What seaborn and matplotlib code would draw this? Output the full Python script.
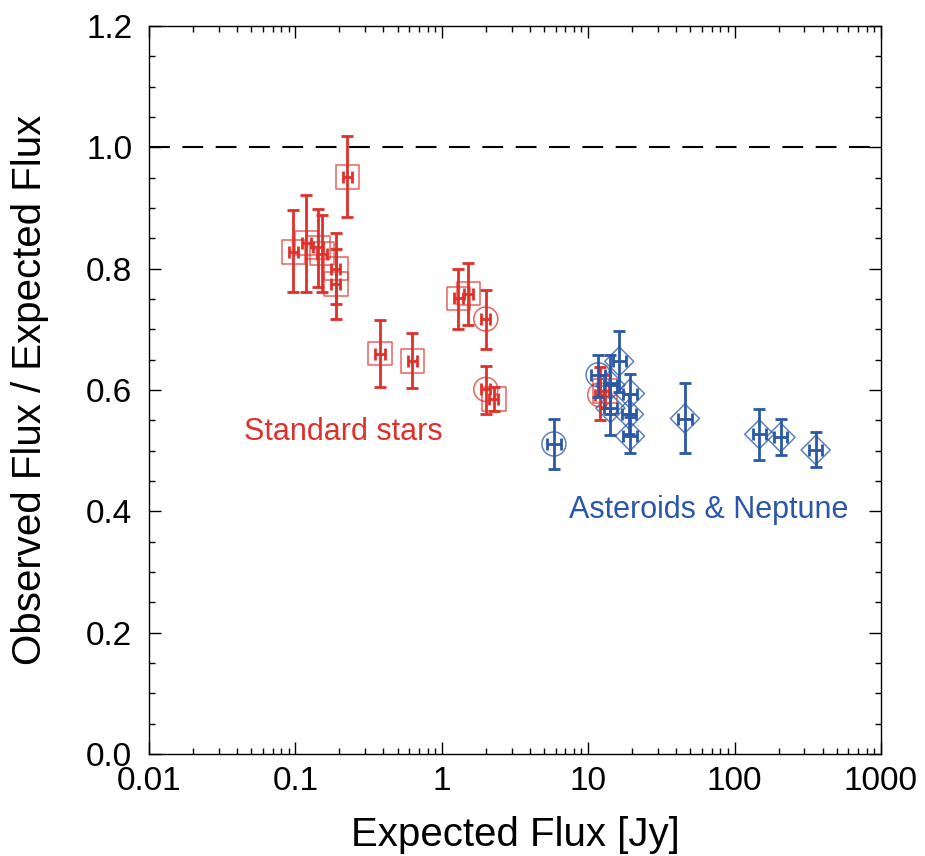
import numpy as np
import pandas as pd
import matplotlib
matplotlib.use("Agg")
import matplotlib.pyplot as plt
import seaborn as sns
from matplotlib.ticker import LogLocator, FixedLocator, MultipleLocator, NullFormatter

# ---- data ----
# Standard stars (red)
std_flux = [0.227, 0.097, 0.119, 0.143, 0.152, 0.189, 0.189, 0.379, 0.63, 1.30, 1.52, 2.0, 2.0, 2.27, 12.0, 13.0]
std_ratio = [0.951, 0.827, 0.842, 0.835, 0.825, 0.800, 0.775, 0.660, 0.648, 0.751, 0.759, 0.717, 0.601, 0.585, 0.592, 0.598]
std_lo = [0.886, 0.761, 0.761, 0.770, 0.761, 0.741, 0.717, 0.605, 0.603, 0.700, 0.707, 0.668, 0.560, 0.566, 0.551, 0.570]
std_hi = [1.019, 0.896, 0.921, 0.899, 0.888, 0.859, 0.833, 0.715, 0.694, 0.800, 0.810, 0.765, 0.640, 0.605, 0.638, 0.625]
std_marker = ["s", "s", "s", "s", "s", "s", "s", "s", "s", "s", "s", "o", "o", "s", "o", "s"]

# Asteroids & Neptune (blue)
ast_flux = [5.84, 11.7, 16.3, 14.2, 14.2, 19.3, 19.0, 19.3, 45.8, 147.6, 206.0, 358.0]
ast_ratio = [0.511, 0.625, 0.647, 0.608, 0.570, 0.594, 0.560, 0.524, 0.553, 0.527, 0.522, 0.501]
ast_lo = [0.470, 0.589, 0.596, 0.560, 0.526, 0.560, 0.527, 0.496, 0.496, 0.485, 0.493, 0.473]
ast_hi = [0.552, 0.658, 0.697, 0.658, 0.612, 0.627, 0.593, 0.555, 0.611, 0.569, 0.552, 0.530]
ast_marker = ["o", "o", "D", "D", "D", "D", "D", "D", "D", "D", "D", "D"]

x_ticks = [0.01, 0.1, 1, 10, 100, 1000]
x_ticklabels = ["0.01", "0.1", "1", "10", "100", "1000"]
y_ticks = [0.0, 0.2, 0.4, 0.6, 0.8, 1.0, 1.2]
y_ticklabels = ["0.0", "0.2", "0.4", "0.6", "0.8", "1.0", "1.2"]

RED = "#E0302A"
BLUE = "#2A58A8"

sns.set_theme(style="ticks")
plt.rcParams["font.family"] = ["Liberation Sans", "DejaVu Sans"]

fig = plt.figure(figsize=(9.25, 8.56), dpi=100)
ax = fig.add_axes([0.161, 0.1192, 0.7914, 0.8504])

df_std = pd.DataFrame({"flux": std_flux, "ratio": std_ratio, "marker": std_marker})
df_ast = pd.DataFrame({"flux": ast_flux, "ratio": ast_ratio, "marker": ast_marker})

def draw(df, lo, hi, color, xfrac):
    flux = np.array(df["flux"])
    ratio = np.array(df["ratio"])
    yerr = [ratio - np.array(lo), np.array(hi) - ratio]
    xerr = [flux - flux / (1 + xfrac), flux * (1 + xfrac) - flux]
    ax.errorbar(flux, ratio, yerr=yerr, xerr=xerr, fmt="none", ecolor=color,
                elinewidth=2.0, capsize=4.0, capthick=2.0, zorder=3)
    sizes = {"s": 290, "o": 300, "D": 220}
    for m, sub in df.groupby("marker"):
        sns.scatterplot(data=sub, x="flux", y="ratio", marker=m, s=sizes[m],
                        facecolors="none", edgecolor=color, linewidth=1.1,
                        alpha=0.75, ax=ax, zorder=2, legend=False)

draw(df_std, std_lo, std_hi, RED, 0.075)
draw(df_ast, ast_lo, ast_hi, BLUE, 0.11)

ax.axhline(1.0, color="black", linestyle=(0, (10, 6)), linewidth=1.5, zorder=1)

ax.set_xscale("log")
ax.set_xlim(0.01, 1000)
ax.set_ylim(0.0, 1.2)
ax.xaxis.set_major_locator(FixedLocator(x_ticks))
ax.set_xticklabels(x_ticklabels)
ax.xaxis.set_minor_locator(LogLocator(base=10, subs=np.arange(2, 10)))
ax.xaxis.set_minor_formatter(NullFormatter())
ax.yaxis.set_major_locator(FixedLocator(y_ticks))
ax.set_yticklabels(y_ticklabels)
ax.yaxis.set_minor_locator(MultipleLocator(0.05))

ax.tick_params(which="both", direction="in", top=True, right=True, color="black",
               labelcolor="black", labelsize=24, width=1.0)
ax.tick_params(which="major", length=8.5, pad=9)
ax.tick_params(axis="y", which="major", pad=12)
ax.tick_params(which="minor", length=4.3)
for sp in ax.spines.values():
    sp.set_color("black")
    sp.set_linewidth(1.0)

ax.set_xlabel("Expected Flux [Jy]", fontsize=29, color="black", labelpad=13)
ax.set_ylabel("Observed Flux / Expected Flux", fontsize=29, color="black", labelpad=27)

ax.text(0.265, 0.442, "Standard stars", transform=ax.transAxes,
        color=RED, fontsize=22, ha="center", va="center")
ax.text(0.765, 0.335, "Asteroids & Neptune", transform=ax.transAxes,
        color=BLUE, fontsize=22, ha="center", va="center")

fig.savefig("out.png", dpi=100)
